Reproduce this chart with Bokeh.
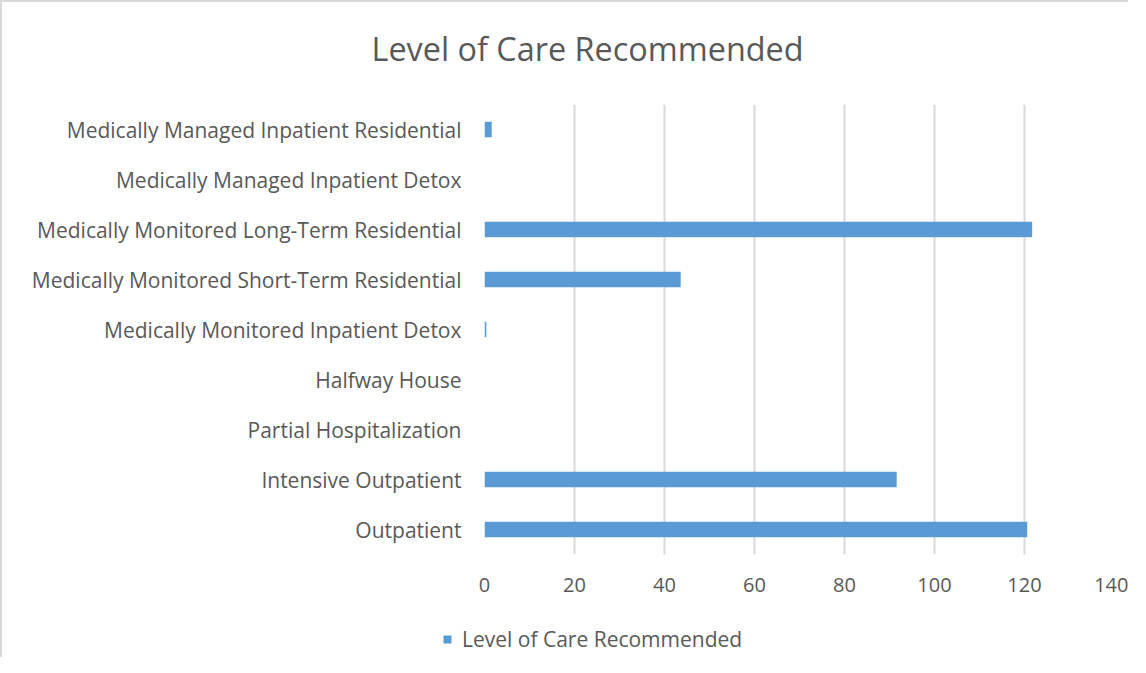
from bokeh.plotting import figure
from bokeh.models import Range1d, FixedTicker, Legend, LegendItem, Title
from bokeh.layouts import column
from bokeh.embed import file_html
from bokeh.resources import INLINE

categories = [
    "Outpatient",
    "Intensive Outpatient",
    "Partial Hospitalization",
    "Halfway House",
    "Medically Monitored Inpatient Detox",
    "Medically Monitored Short-Term Residential",
    "Medically Monitored Long-Term Residential",
    "Medically Managed Inpatient Detox",
    "Medically Managed Inpatient Residential",
]
values = [120.6, 91.6, 0, 0, 0.4, 43.6, 121.7, 0, 1.6]
x_ticks = [0, 20, 40, 60, 80, 100, 120, 140]
series_name = "Level of Care Recommended"
chart_title = "Level of Care Recommended"

FONT = "Open Sans"
TXT = "#595959"
GRID = "#d9d9d9"
BAR = "#5b9bd5"

p = figure(
    width=1128, height=612,
    y_range=categories,
    x_range=Range1d(0, 140),
    output_backend="svg", toolbar_location=None,
    min_border_left=482, min_border_right=16,
    min_border_top=102, min_border_bottom=60,
)
p.styles = {"border-left": "2px solid #d9d9d9", "border-top": "2px solid #d9d9d9"}

p.hbar(y=categories, right=values, left=0, height=0.31, fill_color=BAR, line_color=None)

# spacer between frame and title, then the title itself
p.add_layout(Title(text=" ", text_font_size="1px", standoff=32), "above")
p.add_layout(Title(text=chart_title, text_font=FONT, text_font_size="32.4px",
                   text_font_style="normal", text_color=TXT, align="left",
                   offset=-113, standoff=0), "above")

p.outline_line_color = None
p.ygrid.grid_line_color = None
p.xgrid.grid_line_color = GRID
p.xgrid.grid_line_width = 2
p.xaxis.ticker = FixedTicker(ticks=x_ticks)

for ax in (p.xaxis[0], p.yaxis[0]):
    ax.axis_line_color = None
    ax.major_tick_line_color = None
    ax.minor_tick_line_color = None
    ax.major_label_text_font = FONT
    ax.major_label_text_color = TXT
p.yaxis.major_label_text_font_size = "21px"
p.xaxis.major_label_text_font_size = "20px"
p.yaxis.major_label_standoff = 17
p.xaxis.major_label_standoff = 17

# legend strip below the chart (same series, its bars hidden)
p2 = figure(width=1128, height=45, y_range=categories, x_range=Range1d(0, 140),
            output_backend="svg", toolbar_location=None,
            min_border_left=0, min_border_right=0, min_border_top=0, min_border_bottom=0)
p2.frame_align = False
p2.styles = {"border-left": "2px solid #d9d9d9"}
p2.axis.visible = False
p2.grid.grid_line_color = None
p2.outline_line_color = None
r2 = p2.hbar(y=categories, right=values, left=0, height=0.31,
             fill_color=BAR, line_color=None, visible=False)
legend = Legend(items=[LegendItem(label=series_name, renderers=[r2])],
                location=(440, 4), orientation="horizontal", padding=5,
                label_standoff=10,
                label_text_font=FONT, label_text_font_size="21px",
                label_text_color=TXT, glyph_width=10, glyph_height=10,
                border_line_color=None, background_fill_alpha=0)
p2.add_layout(legend, "center")

layout = column(p, p2, spacing=0)
open("out.html", "w").write(file_html(layout, INLINE))
